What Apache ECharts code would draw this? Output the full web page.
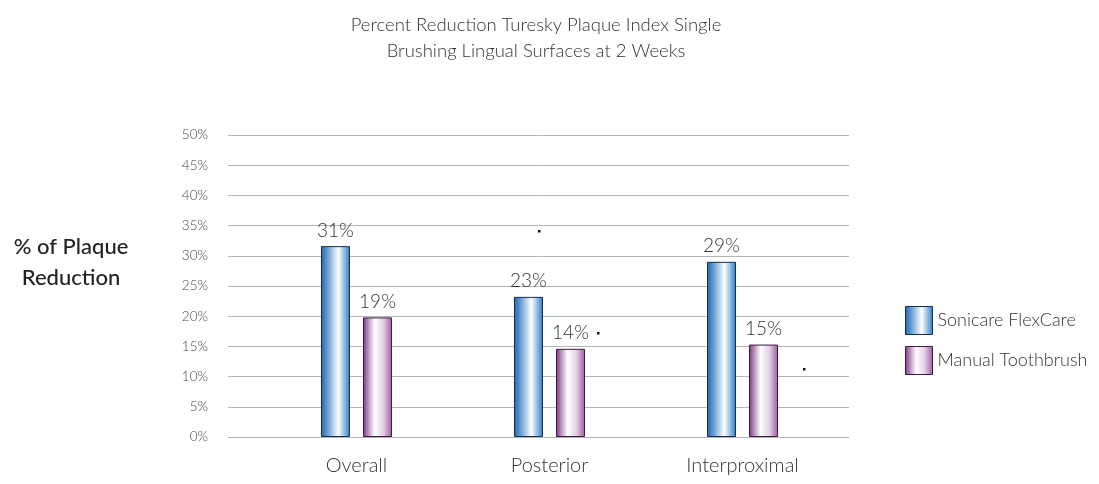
<!DOCTYPE html>
<html><head><meta charset="utf-8">
<script src="https://cdn.jsdelivr.net/npm/echarts@6/dist/echarts.min.js"></script>
<style>html,body{margin:0;padding:0;background:#fff}#c{width:1099px;height:484px}</style>
</head><body><div id="c"></div>
<script>
const categories = ['Overall', 'Posterior', 'Interproximal'];
const sonicare = [31.6, 23.2, 29.0];
const manual = [19.8, 14.6, 15.3];
const sonicareLabels = ['31%', '23%', '29%'];
const manualLabels = ['19%', '14%', '15%'];
const seriesNames = ['Sonicare FlexCare', 'Manual Toothbrush'];

const FONT = 'Lato, "Open Sans", sans-serif';
const blueGrad = {type:'linear',x:0,y:0,x2:1,y2:0,colorStops:[
  {offset:0,color:'#1f66ad'},{offset:0.25,color:'#6fa3d6'},{offset:0.6,color:'#ffffff'},{offset:1,color:'#2a7cc4'}]};
const purpleGrad = {type:'linear',x:0,y:0,x2:1,y2:0,colorStops:[
  {offset:0,color:'#7e3585'},{offset:0.4,color:'#ffffff'},{offset:0.7,color:'#e5cfe6'},{offset:1,color:'#9a5aa0'}]};

const chart = echarts.init(document.getElementById('c'));
chart.setOption({
  animation:false,
  title:{text:'Percent Reduction Turesky Plaque Index Single\nBrushing Lingual Surfaces at 2 Weeks',
    left:531, top:7, textAlign:'center',
    textStyle:{fontFamily:FONT,fontWeight:300,fontSize:18.5,color:'#333',lineHeight:26}},
  legend:{orient:'vertical', left:900, top:301, itemWidth:27, itemHeight:28, itemGap:11, icon:'rect',
    textStyle:{fontFamily:FONT,fontWeight:300,fontSize:18,color:'#333'},
    data:[{name:seriesNames[0],itemStyle:{color:blueGrad,borderColor:'#1a2a4a',borderWidth:1}},
          {name:seriesNames[1],itemStyle:{color:purpleGrad,borderColor:'#3a1a3e',borderWidth:1}}]},
  graphic:[
    {type:'text',x:71,y:231,style:{text:'% of Plaque\nReduction',fontFamily:FONT,fontSize:22,fontWeight:500,fill:'#222',align:'center',lineHeight:31}},
    {type:'rect',shape:{x:538,y:230,width:2.5,height:2.5},style:{fill:'#111'}},
    {type:'rect',shape:{x:597,y:332,width:2.5,height:2.5},style:{fill:'#111'}},
    {type:'rect',shape:{x:803,y:368,width:2.5,height:2.5},style:{fill:'#111'}}
  ],
  grid:[{left:228,right:250,top:135,bottom:47},{left:260,right:260,top:135,bottom:47}],
  xAxis:[
    {type:'category',gridIndex:0,data:categories,show:false},
    {type:'category',gridIndex:1,data:categories,axisLine:{show:false},axisTick:{show:false},
     axisLabel:{fontFamily:FONT,fontWeight:300,fontSize:20,color:'#333',margin:19}}],
  yAxis:[
    {type:'value',gridIndex:0,min:0,max:50,interval:5,axisLine:{show:false},axisTick:{show:false},
     splitLine:{lineStyle:{color:'#b5b5b5',width:1}},
     axisLabel:{formatter:'{value}%',fontFamily:FONT,fontWeight:300,fontSize:13.5,color:'#444',margin:20}},
    {type:'value',gridIndex:1,min:0,max:50,interval:5,show:false,splitLine:{show:false}}],
  series:[
    {name:seriesNames[0],type:'bar',xAxisIndex:1,yAxisIndex:1,data:sonicare,barWidth:29,barGap:'45%',
     itemStyle:{color:blueGrad,borderColor:'#1a2a4a',borderWidth:1},
     label:{show:true,position:'top',distance:6,formatter:p=>sonicareLabels[p.dataIndex],
       fontFamily:FONT,fontWeight:300,fontSize:19,color:'#333'}},
    {name:seriesNames[1],type:'bar',xAxisIndex:1,yAxisIndex:1,data:manual,barWidth:29,
     itemStyle:{color:purpleGrad,borderColor:'#3a1a3e',borderWidth:1},
     label:{show:true,position:'top',distance:6,formatter:p=>manualLabels[p.dataIndex],
       fontFamily:FONT,fontWeight:300,fontSize:19,color:'#333'}}
  ]
});
</script></body></html>
